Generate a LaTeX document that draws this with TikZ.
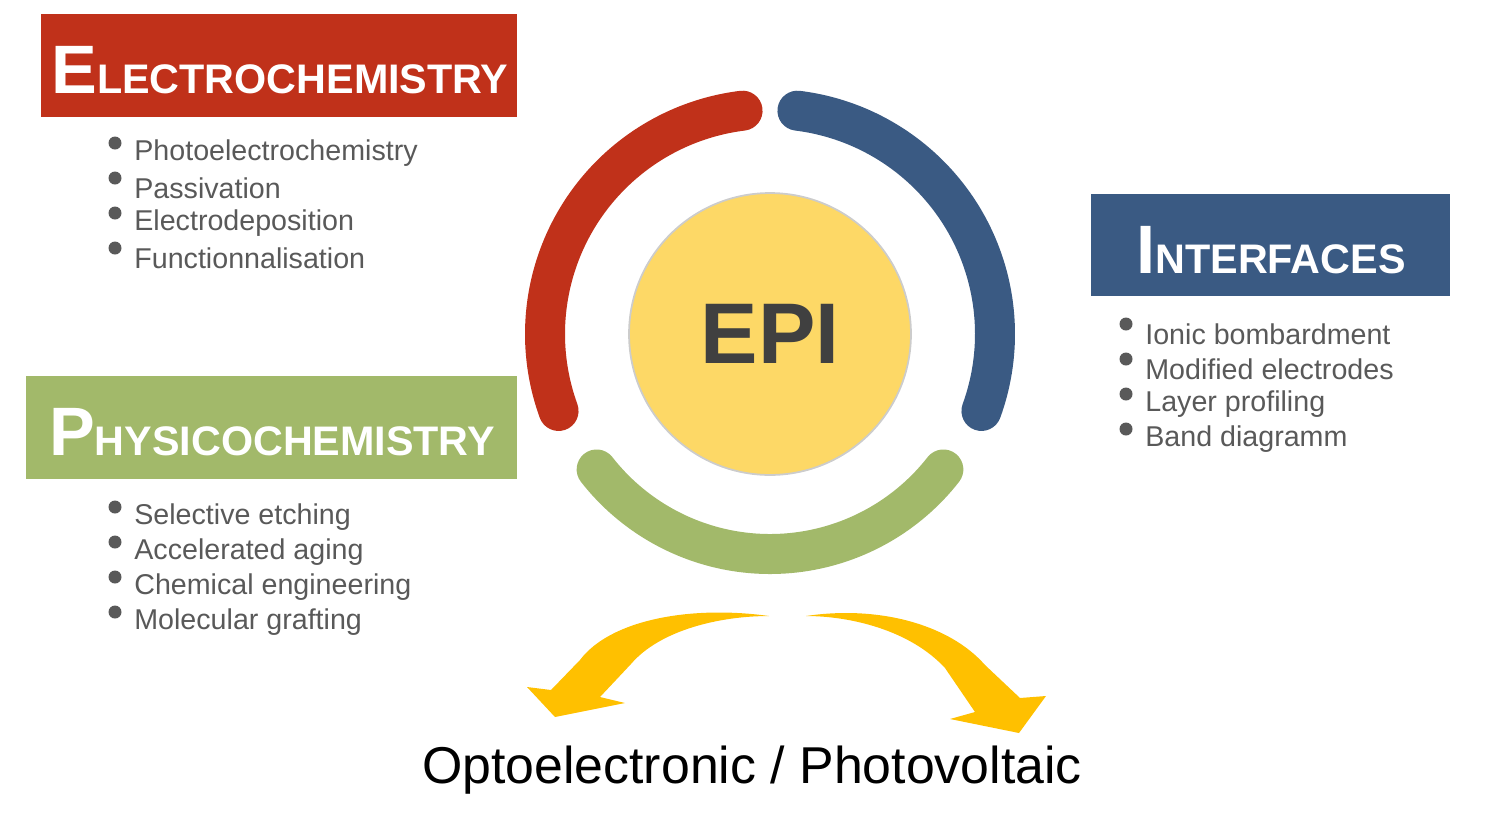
\documentclass[tikz,border=0pt]{standalone}
\usepackage{fontspec}
\setmainfont{Liberation Sans}
\definecolor{elred}{HTML}{C0311A}
\definecolor{inblue}{HTML}{3A5A83}
\definecolor{phgreen}{HTML}{A2B96A}
\definecolor{epiyel}{HTML}{FDD866}
\definecolor{arryel}{HTML}{FFC000}
\definecolor{txtgray}{HTML}{595959}
\begin{document}
\begin{tikzpicture}[x=0.02cm, y=-0.02cm,
                    titlebox/.style = {inner sep=0pt, text=white,
                                       font=\bfseries},
                    item/.style = {anchor=west, inner sep=0pt, text=txtgray,
                                   font=\fontsize{16.3}{18}\selectfont},
                    ring/.style = {line width=0.8cm, line cap=round}]

  \useasboundingbox (0,0) rectangle (1499,833);

  % Title boxes
  \fill[elred] (41,14) rectangle (517,117);
  \node[titlebox] (elec) at (280,70)
    {\fontsize{39}{40}\selectfont E\fontsize{23.5}{24}\selectfont LECTROCHEMISTRY};
  \fill[phgreen] (26,376) rectangle (517,479);
  \node[titlebox] (phys) at (272,432)
    {\fontsize{39}{40}\selectfont P\fontsize{23.5}{24}\selectfont HYSICOCHEMISTRY};
  \fill[inblue] (1091,194) rectangle (1450,296);
  \node[titlebox] (intf) at (1271,250)
    {\fontsize{39}{40}\selectfont I\fontsize{23.5}{24}\selectfont NTERFACES};

  % Bullet lists
  \foreach \txt [count=\i] in {Photoelectrochemistry, Passivation,
                               Electrodeposition, Functionnalisation} {
    \fill[txtgray] (115,{108+35*\i}) circle (6.5);
    \node[item] (el\i) at (134,{118+35*\i}) {\txt};
  }
  \foreach \txt [count=\i] in {Selective etching, Accelerated aging,
                               Chemical engineering, Molecular grafting} {
    \fill[txtgray] (115,{472+35*\i}) circle (6.5);
    \node[item] (ph\i) at (134,{482+35*\i}) {\txt};
  }
  \foreach \txt [count=\i] in {Ionic bombardment, Modified electrodes,
                               Layer profiling, Band diagramm} {
    \fill[txtgray] (1126,{289+35*\i}) circle (6.5);
    \node[item] (in\i) at (1145,{299+35*\i}) {\txt};
  }

  % Rings
  \draw[ring, elred] (770,334) ++(-97:225) arc (-97:-200:225);
  \draw[ring, inblue] (770,334) ++(-83:225) arc (-83:20:225);
  \draw[ring, phgreen] (770,334) ++(-218:220) arc (-218:-322:220);

  % Centre
  \node[circle, minimum size=5.64cm, fill=epiyel, draw=black!20,
        line width=1pt, text=black!75, font=\bfseries\fontsize{49}{49}\selectfont]
    (epi) at (770,334) {EPI};

  % Arrows
  \fill[arryel] (769,616) .. controls (690,605) and (610,620) .. (580,660)
    -- (551,690) -- (527,687) -- (555,717) -- (625,703) -- (600,697)
    -- (631,664) .. controls (660,630) and (720,616) .. (769,616) -- cycle;
  \fill[arryel] (806,616) .. controls (880,605) and (950,625) .. (985,665)
    -- (1020,698) -- (1046,696) -- (1019,733) -- (950,719) -- (975,712)
    -- (945,668) .. controls (910,630) and (850,616) .. (806,616) -- cycle;

  \node[font=\fontsize{29.5}{30}\selectfont] (app) at (752,770)
    {Optoelectronic / Photovoltaic};
\end{tikzpicture}
\end{document}
